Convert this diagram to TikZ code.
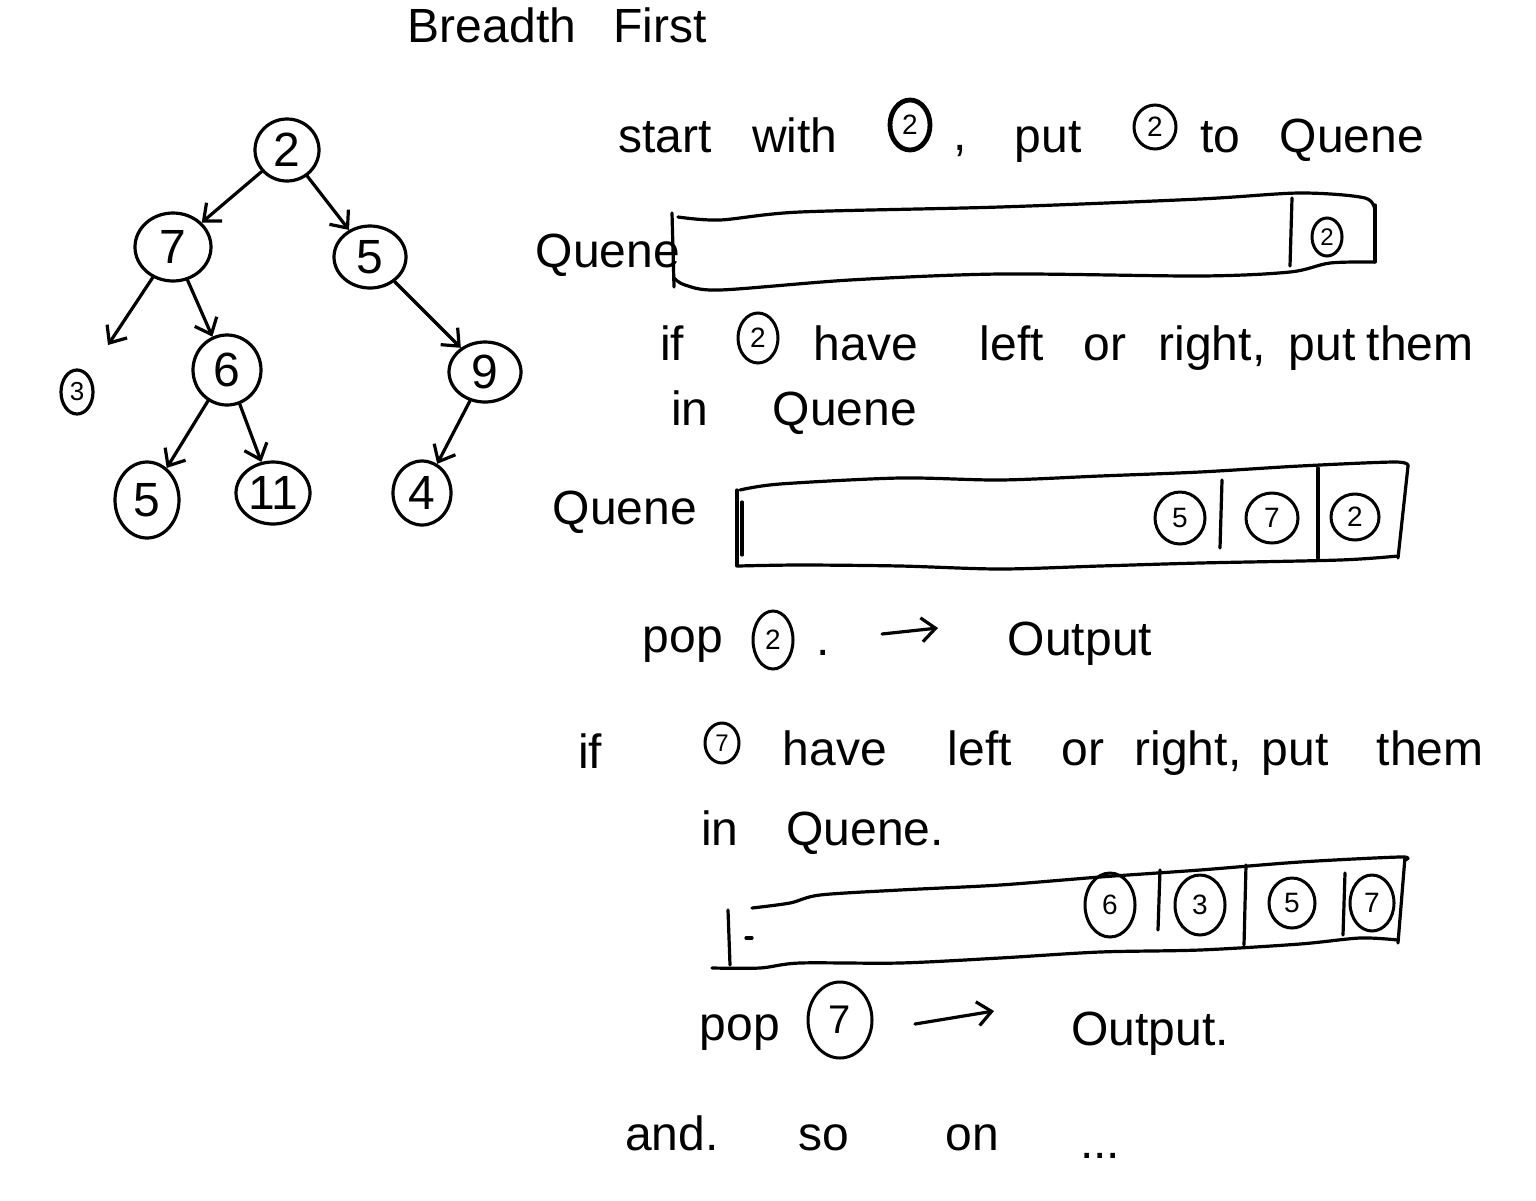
\documentclass[tikz,border=0pt]{standalone}
\usepackage{fontspec}
\setmainfont{Liberation Sans}
\usetikzlibrary{arrows.meta,shapes.geometric}
\begin{document}
\begin{tikzpicture}[x=0.5pt,y=-0.5pt,
 ink/.style={line width=1.6pt, line cap=round, line join=round},
 txt/.style={anchor=base, inner sep=0pt, font=\fontsize{24}{28}\selectfont},
 tnode/.style={ellipse, draw, line width=1.6pt, inner sep=0pt, font=\fontsize{24}{28}\selectfont},
 cnum/.style={ellipse, draw, line width=1.5pt, inner sep=0pt, font=\fontsize{14}{16}\selectfont},
 arr/.style={ink, -{Straight Barb[length=7pt,width=12pt]}},
]
\useasboundingbox (0,0) rectangle (1536,1200);

% title
\node[txt] (tB) at (492,42) {Breadth};
\node[txt] (tF) at (660,42) {First};

% tree
\node[tnode, minimum width=32pt, minimum height=31pt] (t2) at (287,150) {2};
\node[tnode, minimum width=38pt, minimum height=34pt] (t7) at (173,247) {7};
\node[tnode, minimum width=36pt, minimum height=31pt] (t5) at (370,257) {5};
\node[tnode, minimum width=34pt, minimum height=35pt] (t6) at (227,370) {6};
\node[tnode, minimum width=36pt, minimum height=30pt] (t9) at (485,372) {9};
\node[tnode, minimum width=16pt, minimum height=22pt, font=\fontsize{13}{15}\selectfont] (t3) at (77,392) {3};
\node[tnode, minimum width=32pt, minimum height=38pt] (t5b) at (147,500) {5};
\node[tnode, minimum width=37pt, minimum height=31pt] (t11) at (273,493) {11};
\node[tnode, minimum width=29pt, minimum height=32pt] (t4) at (422,493) {4};
\coordinate (e73) at (108,345);
\draw[arr] (t2) -- (t7);
\draw[arr] (t2) -- (t5);
\draw[arr] (t7) -- (e73);
\draw[arr] (t7) -- (t6);
\draw[arr] (t5) -- (t9);
\draw[arr] (t6) -- (t5b);
\draw[arr] (t6) -- (t11);
\draw[arr] (t9) -- (t4);

% line 1
\node[txt] (w1) at (665,152) {start};
\node[txt] (w2) at (795,152) {with};
\node[cnum, line width=2.4pt, minimum width=20pt, minimum height=25pt] (c1) at (910,125) {2};
\node[txt] (w3) at (960,150) {,};
\node[txt] (w4) at (1048,152) {put};
\node[cnum, minimum width=21pt, minimum height=22pt] (c2) at (1155,127) {2};
\node[txt] (w5) at (1220,152) {to};
\node[txt] (w6) at (1352,152) {Quene};

% queue 1
\node[txt, anchor=center] (ql1) at (608,255) {Quene};
\draw[ink] plot[smooth] coordinates {(678,217)(720,220)(800,212)(1000,207)(1200,199)(1300,193)(1365,198)(1375,212)};
\draw[ink] (1375,205) -- (1375,262);
\draw[ink] plot[smooth] coordinates {(1375,262)(1330,263)(1290,272)(1200,276)(1000,274)(850,280)(720,290)(685,285)(674,278)};
\draw[ink] (672,213) -- (674,287);
\draw[ink] (1292,198) -- (1290,266);
\node[cnum, minimum width=15pt, minimum height=19pt, font=\fontsize{12}{14}\selectfont] (q1a) at (1327,237) {2};

% line 2
\node[txt] (x1) at (672,360) {if};
\node[cnum, minimum width=20pt, minimum height=25pt] (c3) at (758,338) {2};
\node[txt] (x2) at (866,360) {have};
\node[txt] (x3) at (1012,360) {left};
\node[txt] (x4) at (1105,360) {or};
\node[txt] (x5) at (1212,360) {right,};
\node[txt] (x6) at (1322,360) {put};
\node[txt] (x7) at (1420,360) {them};
\node[txt] (x8) at (690,425) {in};
\node[txt] (x9) at (845,425) {Quene};

% queue 2
\node[txt, anchor=center] (ql2) at (625,512) {Quene};
\draw[ink] plot[smooth] coordinates {(740,490)(780,484)(900,478)(1000,480)(1100,476)(1200,472)(1300,466)(1395,462)(1408,466)};
\draw[ink] (1408,466) -- (1398,558);
\draw[ink] plot[smooth] coordinates {(1398,556)(1340,560)(1200,563)(1100,566)(1000,569)(900,566)(800,565)(738,566)};
\draw[ink] (737,490) -- (737,566);
\draw[ink] (742,502) -- (742,555);
\draw[ink] (1222,480) -- (1220,548);
\draw[ink] (1318,468) -- (1318,558);
\node[cnum, minimum width=25pt, minimum height=26pt] (q2a) at (1180,518) {5};
\node[cnum, minimum width=26pt, minimum height=25pt] (q2b) at (1272,518) {7};
\node[cnum, minimum width=24pt, minimum height=23pt] (q2c) at (1355,517) {2};

% pop 2
\node[txt] (p1) at (683,652) {pop};
\node[cnum, minimum width=20pt, minimum height=29pt] (c4) at (773,640) {2};
\node[txt] (p2) at (823,655) {.};
\coordinate (a1) at (882,634);
\coordinate (b1) at (938,628);
\draw[arr] (a1) -- (b1);
\node[txt] (p3) at (1080,655) {Output};

% line 3
\node[txt] (y1) at (590,768) {if};
\node[cnum, minimum width=17pt, minimum height=20pt, font=\fontsize{12}{14}\selectfont] (c5) at (722,743) {7};
\node[txt] (y2) at (835,765) {have};
\node[txt] (y3) at (980,765) {left};
\node[txt] (y4) at (1083,765) {or};
\node[txt] (y5) at (1188,765) {right,};
\node[txt] (y6) at (1295,765) {put};
\node[txt] (y7) at (1430,765) {them};
\node[txt] (y8) at (720,845) {in};
\node[txt] (y9) at (865,845) {Quene.};

% queue 3
\draw[ink] plot[smooth] coordinates {(752,908)(790,903)(820,895)(900,890)(1000,885)(1100,877)(1200,870)(1300,862)(1400,857)(1405,860)};
\draw[ink] (1405,857) -- (1398,943);
\draw[ink] plot[smooth] coordinates {(1398,940)(1360,938)(1300,944)(1200,950)(1100,952)(1000,958)(900,963)(800,963)(760,968)(712,968)};
\draw[ink] (728,910) -- (730,965);
\draw[ink] (746,938) -- (752,938);
\draw[ink] (1160,870) -- (1158,930);
\draw[ink] (1246,865) -- (1244,945);
\draw[ink] (1345,873) -- (1343,935);
\node[cnum, minimum width=25pt, minimum height=32pt] (q3a) at (1110,905) {6};
\node[cnum, minimum width=25pt, minimum height=30pt] (q3b) at (1200,905) {3};
\node[cnum, minimum width=23pt, minimum height=25pt] (q3c) at (1292,903) {5};
\node[cnum, minimum width=22pt, minimum height=28pt] (q3d) at (1372,903) {7};

% pop 7
\node[txt] (r1) at (740,1040) {pop};
\node[cnum, minimum width=32pt, minimum height=38pt, font=\fontsize{20}{22}\selectfont] (c6) at (840,1020) {7};
\coordinate (a2) at (915,1024);
\coordinate (b2) at (994,1011);
\draw[arr] (a2) -- (b2);
\node[txt] (r2) at (1150,1045) {Output.};

% and so on
\node[txt] (z1) at (672,1150) {and.};
\node[txt] (z2) at (824,1150) {so};
\node[txt] (z3) at (972,1150) {on};
\node[txt] (z4) at (1100,1158) {...};
\end{tikzpicture}
\end{document}
